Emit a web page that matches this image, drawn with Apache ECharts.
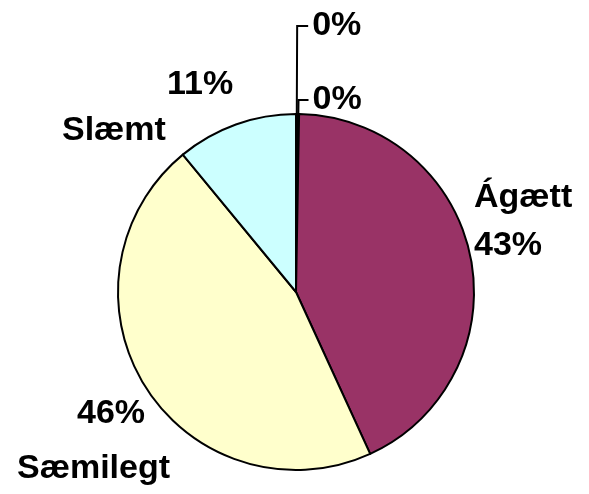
<!DOCTYPE html>
<html>
<head>
<meta charset="utf-8">
<script src="https://cdn.jsdelivr.net/npm/echarts@6/dist/echarts.min.js"></script>
<style>
  html, body { margin: 0; padding: 0; background: #fff; }
  #chart { width: 589px; height: 494px; }
</style>
</head>
<body>
<div id="chart"></div>
<script>
// slice data, clockwise from 12 o'clock (the two empty 0% slices sit right at the top)
var categories = ['', '', 'Ágætt', 'Sæmilegt', 'Slæmt'];
var values = [0, 0, 43, 46, 11];
var percentLabels = ['0%', '0%', '43%', '46%', '11%'];
var colors = ['#000000', '#000000', '#993366', '#FFFFCC', '#CCFFFF'];

var font = '"Liberation Sans", Arial, sans-serif';
var fs = 34;

// where the three main labels sit (left edge, vertical middle)
var labelAnchors = {
  2: { x: 474, y: 222 },
  3: { x: 17, y: 441 },
  4: { x: 62, y: 108 }
};

function labelText(i) {
  if (i === 2) return '{a|' + categories[2] + '}\n{a|' + percentLabels[2] + '}';
  if (i === 3) return '{p2|' + percentLabels[3] + '}\n{b|' + categories[3] + '}';
  if (i === 4) return '{p3|' + percentLabels[4] + '}\n{c|' + categories[4] + '}';
  return percentLabels[i];
}

var pieData = values.map(function (v, i) {
  var item = {
    name: categories[i],
    value: v,
    itemStyle: { color: colors[i] }
  };
  if (i === 0) item.labelLine = { length: 88, length2: 11 };
  if (i === 1) item.labelLine = { length: 14, length2: 10 };
  if (i >= 2) item.labelLine = { show: false };
  return item;
});

function rs(lh, pad) {
  return { fontFamily: font, fontWeight: 'bold', fontSize: fs, color: '#000', lineHeight: lh, padding: pad || 0 };
}

var myChart = echarts.init(document.getElementById('chart'), null, { renderer: 'canvas' });
myChart.setOption({
  animation: false,
  backgroundColor: '#ffffff',
  series: [{
    type: 'pie',
    center: [296, 292],
    radius: [0, 178],
    startAngle: 90,
    clockwise: true,
    minAngle: 0.5,
    avoidLabelOverlap: false,
    minShowLabelAngle: 0,
    stillShowZeroSum: true,
    itemStyle: { borderColor: '#000', borderWidth: 2 },
    emphasis: { disabled: true },
    label: {
      show: true,
      position: 'outside',
      distanceToLabelLine: 4,
      color: '#000',
      fontFamily: font,
      fontWeight: 'bold',
      fontSize: fs,
      formatter: function (p) { return labelText(p.dataIndex); },
      rich: {
        a: rs(48),
        b: rs(55),
        p2: rs(55, [0, 0, 0, 60]),
        c: rs(46),
        p3: rs(46, [0, 0, 0, 105])
      }
    },
    labelLine: {
      show: true,
      lineStyle: { color: '#000', width: 2 }
    },
    labelLayout: function (params) {
      var a = labelAnchors[params.dataIndex];
      if (!a) return {};
      return { x: a.x, y: a.y, align: 'left', verticalAlign: 'middle' };
    },
    data: pieData
  }]
});
</script>
</body>
</html>
